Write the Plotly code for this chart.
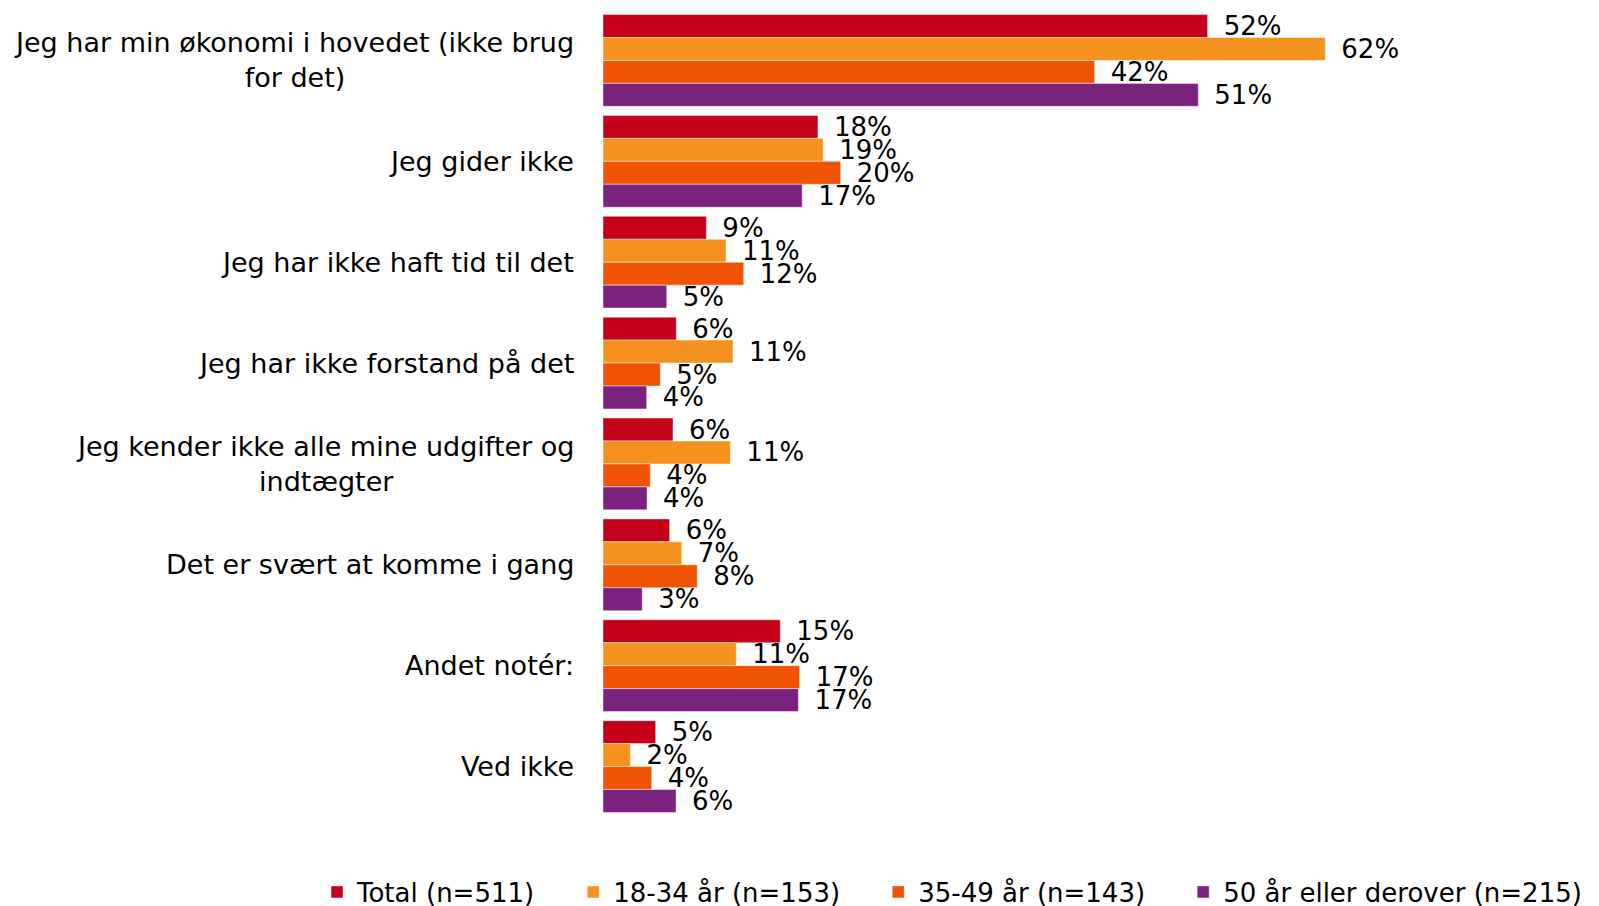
import plotly.graph_objects as go

categories = [
    "Jeg har min økonomi i hovedet (ikke brug<br>for det)",
    "Jeg gider ikke",
    "Jeg har ikke haft tid til det",
    "Jeg har ikke forstand på det",
    "Jeg kender ikke alle mine udgifter og<br>indtægter",
    "Det er svært at komme i gang",
    "Andet notér:",
    "Ved ikke",
]

series_names = ["Total (n=511)", "18-34 år (n=153)", "35-49 år (n=143)", "50 år eller derover (n=215)"]
total = [51.9, 18.45, 8.87, 6.29, 6.01, 5.72, 15.22, 4.52]
age_18_34 = [62.0, 18.9, 10.56, 11.16, 10.93, 6.76, 11.44, 2.35]
age_35_49 = [42.2, 20.4, 12.08, 4.92, 4.06, 8.09, 16.88, 4.18]
age_50_plus = [51.1, 17.1, 5.47, 3.75, 3.78, 3.37, 16.77, 6.27]

colors = ["#C40018", "#F5921F", "#F05206", "#7A237E"]
FONT = "DejaVu Sans, Verdana, sans-serif"

fig = go.Figure()
n_series = len(series_names)
for i, (name, vals, col) in enumerate(zip(series_names, [total, age_18_34, age_35_49, age_50_plus], colors)):
    pad = "\u2007\u2007" if i < n_series - 1 else ""
    fig.add_trace(go.Bar(
        y=categories, x=vals, name=name + pad, orientation="h",
        marker=dict(color=col, line=dict(color="rgba(255,255,255,0.45)", width=1)),
        text=["\u2002" + f"{round(v)}%" for v in vals],
        textposition="outside", cliponaxis=False, constraintext="none",
        textfont=dict(family=FONT, size=26, color="#000000"),
        hoverinfo="skip",
    ))

for c in categories:
    fig.add_annotation(
        x=0, xref="paper", y=c, yref="y", text=c, showarrow=False,
        xanchor="right", yanchor="middle", align="center", xshift=-27,
        font=dict(family=FONT, size=27, color="#000000"),
    )

# figure sits inside the page body (8px default margin), so offsets are -8px
W, H = 1599, 906
left, right, top, bottom = 595, 0, 2, 97
plot_w = W - left - right
plot_h = H - top - bottom

fig.update_layout(
    width=W, height=H,
    margin=dict(l=left, r=right, t=top, b=bottom, autoexpand=False),
    barmode="group", bargap=0.09, bargroupgap=0,
    plot_bgcolor="white", paper_bgcolor="white",
    xaxis=dict(range=[0, plot_w / 11.65], visible=False, fixedrange=True),
    yaxis=dict(autorange="reversed", showticklabels=False, showgrid=False,
               zeroline=False, showline=False, ticks=""),
    legend=dict(orientation="h", x=(309 - left) / plot_w, xanchor="left",
                y=-(884 - (H - bottom)) / plot_h, yanchor="middle",
                font=dict(family=FONT, size=26, color="#000000"),
                traceorder="normal", itemclick=False),
    font=dict(family=FONT),
    showlegend=True,
)

fig.write_html("out.html")
